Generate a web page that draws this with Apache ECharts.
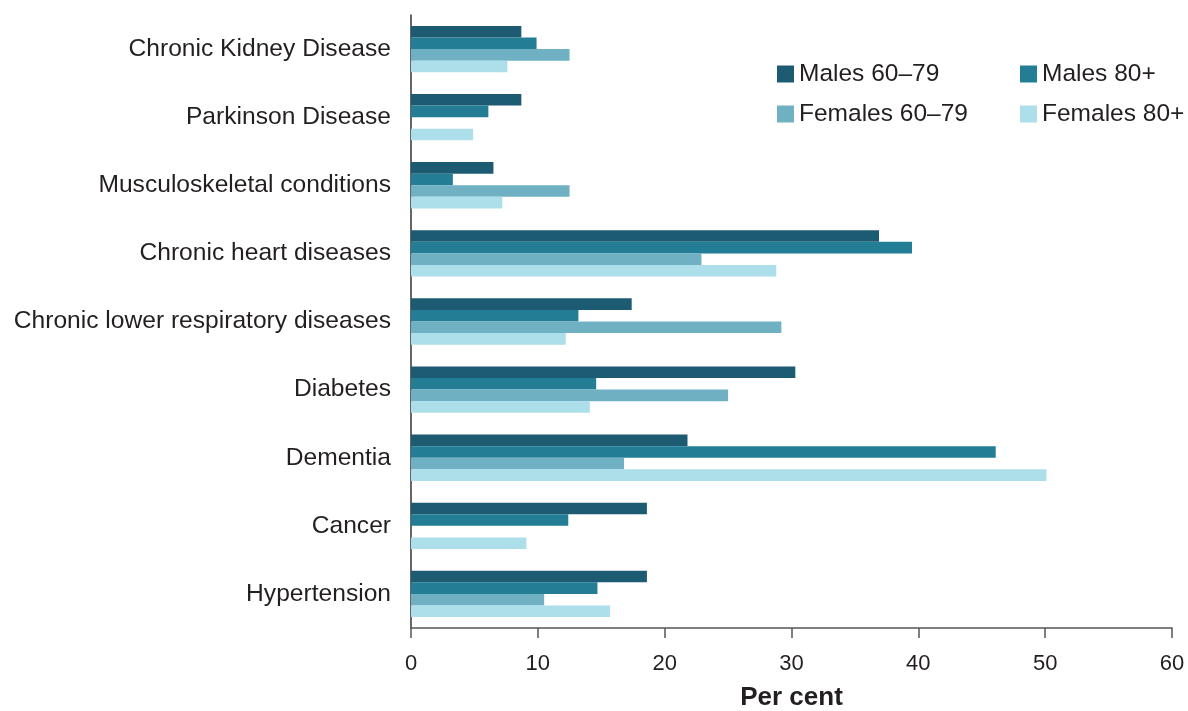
<!DOCTYPE html>
<html>
<head>
<meta charset="utf-8">
<script src="https://cdn.jsdelivr.net/npm/echarts@6/dist/echarts.min.js"></script>
<style>
  html, body { margin: 0; padding: 0; background: #fff; }
  #chart { width: 1188px; height: 711px; }
</style>
</head>
<body>
<div id="chart"></div>
<script>
// categories, top to bottom
var categories = [
  "Chronic Kidney Disease",
  "Parkinson Disease",
  "Musculoskeletal conditions",
  "Chronic heart diseases",
  "Chronic lower respiratory diseases",
  "Diabetes",
  "Dementia",
  "Cancer",
  "Hypertension"
];
var males6079   = [8.7, 8.7, 6.5, 36.9, 17.4, 30.3, 21.8, 18.6, 18.6];
var males80     = [9.9, 6.1, 3.3, 39.5, 13.2, 14.6, 46.1, 12.4, 14.7];
var females6079 = [12.5, null, 12.5, 22.9, 29.2, 25.0, 16.8, null, 10.5];
var females80   = [7.6, 4.9, 7.2, 28.8, 12.2, 14.1, 50.1, 9.1, 15.7];
var xTicks = [0, 10, 20, 30, 40, 50, 60];

var colors = ["#1d5b73", "#237d94", "#6fb1c2", "#acdfea"];
var textColor = "#231f20";
var font = "Liberation Sans, Arial, sans-serif";

function bar(name, data, i) {
  return {
    name: name,
    type: "bar",
    data: data,
    barGap: "0%",
    barCategoryGap: "32%",
    itemStyle: { color: colors[i] }
  };
}

var legendText = { fontSize: 24.5, lineHeight: 26, color: textColor, fontFamily: font };

var chart = echarts.init(document.getElementById("chart"));
chart.setOption({
  animation: false,
  textStyle: { fontFamily: font },
  grid: { left: 411, right: 16, top: 15, bottom: 83, containLabel: false, outerBoundsMode: "none" },
  legend: [
    {
      orient: "vertical", left: 777, top: 61, padding: 0,
      itemWidth: 17, itemHeight: 17, itemGap: 14,
      icon: "rect",
      textStyle: legendText,
      data: ["Males 60\u201379", "Females 60\u201379"]
    },
    {
      orient: "vertical", left: 1020, top: 61, padding: 0,
      itemWidth: 17, itemHeight: 17, itemGap: 14,
      icon: "rect",
      textStyle: legendText,
      data: ["Males 80+", "Females 80+"]
    }
  ],
  xAxis: {
    type: "value",
    min: xTicks[0],
    max: xTicks[xTicks.length - 1],
    interval: 10,
    name: "Per cent",
    nameLocation: "middle",
    nameGap: 57,
    nameTextStyle: { fontSize: 26, fontWeight: "bold", color: textColor, fontFamily: font },
    axisLine: { show: true, lineStyle: { color: "#555", width: 1.5 } },
    axisTick: { show: true, length: 10, lineStyle: { color: "#555", width: 1.5 } },
    axisLabel: { fontSize: 22, color: textColor, margin: 25, fontFamily: font },
    splitLine: { show: false }
  },
  yAxis: {
    type: "category",
    inverse: true,
    data: categories,
    axisLine: { show: true, lineStyle: { color: "#333", width: 1.5 } },
    axisTick: { show: false },
    axisLabel: { fontSize: 24.6, color: textColor, margin: 20, fontFamily: font }
  },
  series: [
    bar("Males 60\u201379", males6079, 0),
    bar("Males 80+", males80, 1),
    bar("Females 60\u201379", females6079, 2),
    bar("Females 80+", females80, 3)
  ]
});
</script>
</body>
</html>
